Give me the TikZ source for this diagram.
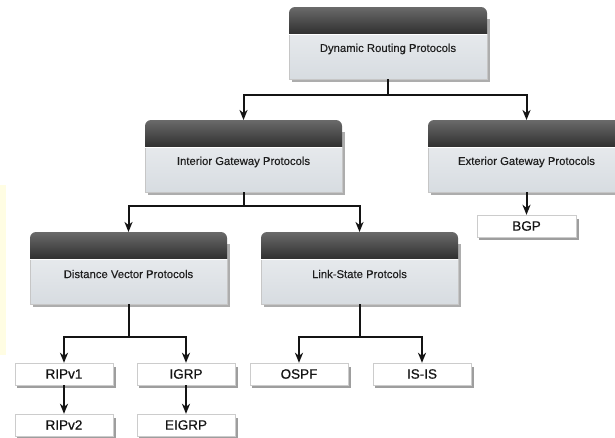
\documentclass[tikz,border=0pt]{standalone}
\usepackage{fontspec}
\setmainfont{Liberation Sans}
\newfontfamily\leaffont[FakeBold=0.6]{Liberation Sans}
\newfontfamily\catfont[FakeBold=0.25]{Liberation Sans}
\usetikzlibrary{arrows.meta}
\definecolor{hdtop}{HTML}{6A6A6A}
\definecolor{hdmid}{HTML}{383838}
\definecolor{hdbot}{HTML}{1A1A1A}
\definecolor{bdtop}{HTML}{E6E9EC}
\definecolor{bdbot}{HTML}{D7DCE1}
\definecolor{shc}{HTML}{6A6A6A}
\definecolor{ylw}{HTML}{FFFDE3}
\definecolor{txt}{HTML}{1E1E1E}
\tikzset{
  conn/.style={line width=2pt, draw=black!92, -{Stealth[length=10pt,width=8pt,inset=3pt]}},
  plain/.style={line width=2pt, draw=black!92},
  cattext/.style={font=\catfont\fontsize{11.3}{13}\selectfont, text=txt, inner sep=0pt},
  leaf/.style={draw=gray!40, line width=.4pt, fill=white, inner sep=0pt, font=\leaffont\fontsize{13.5}{15}\selectfont, text=black!92},
  anchorbox/.style={inner sep=0pt, outer sep=0pt}
}
% #1 name, #2 left, #3 top, #4 right, #5 bottom, #6 text
\newcommand\catbox[6]{%
  \fill[shc,opacity=.55] ({#2+2.5},{#3+12}) rectangle ({#4+2.5},{#5+3});
  \shade[top color=hdtop, middle color=hdmid, bottom color=hdbot, rounded corners=6pt] (#2,{#3+37}) rectangle (#4,#3);
  \shade[top color=bdtop, bottom color=bdbot] (#2,{#3+27}) rectangle (#4,#5);
  \draw[gray!45, line width=.4pt] (#2,{#3+27}) -- (#2,#5) -- (#4,#5) -- (#4,{#3+27});
  \draw[white, line width=.8pt] (#2,{#3+27}) -- (#4,{#3+27});
  \pgfmathsetmacro\bw{#4-#2}\pgfmathsetmacro\bh{#5-#3}%
  \node[anchorbox, minimum width=\bw pt, minimum height=\bh pt] (#1) at ({(#2+#4)/2},{(#3+#5)/2}) {};
  \node[cattext] (#1-t) at ({(#2+#4)/2},{#3+42}) {#6};
}
\newcommand\leafbox[6]{%
  \fill[shc,opacity=.65] ({#2+2},{#3+4}) rectangle ({#4+2.5},{#5+2.5});
  \pgfmathsetmacro\bw{#4-#2}\pgfmathsetmacro\bh{#5-#3}%
  \node[leaf, minimum width=\bw pt, minimum height=\bh pt] (#1) at ({(#2+#4)/2},{(#3+#5)/2}) {#6};
}
\begin{document}
\begin{tikzpicture}[x=1pt,y=-1pt]
\useasboundingbox (0,0) rectangle (615,437);
\clip (0,0) rectangle (615,437);
\fill[white] (0,0) rectangle (615,437);
\fill[ylw] (0,185) rectangle (6,355);

\catbox{drp}{289}{7}{487}{79}{Dynamic Routing Protocols}
\catbox{igp}{145}{120}{342}{192}{Interior Gateway Protocols}
\catbox{egp}{428}{120}{625}{192}{Exterior Gateway Protocols}
\catbox{dvp}{30}{232}{227}{304}{Distance Vector Protocols}
\catbox{lsp}{261}{232}{458}{304}{Link-State Protcols}

\leafbox{bgp}{477}{215}{576}{237}{BGP}
\leafbox{ripa}{15}{363}{113}{385}{RIPv1}
\leafbox{igrp}{137}{363}{235}{385}{IGRP}
\leafbox{ospf}{250}{363}{348}{385}{OSPF}
\leafbox{isis}{373}{363}{471}{385}{IS-IS}
\leafbox{ripb}{15}{414}{113}{436}{RIPv2}
\leafbox{eigrp}{137}{414}{235}{436}{EIGRP}

\draw[plain] (drp.south) -- ++(0,16) coordinate (j0);
\draw[conn] (j0) -| (igp.north);
\draw[conn] (j0) -| (egp.north);

\draw[plain] (igp.south) -- ++(0,14) coordinate (j1);
\draw[conn] (j1) -| (dvp.north);
\draw[conn] (j1) -| (lsp.north);

\draw[conn] (egp.south) -- (bgp.north);

\draw[plain] (dvp.south) -- ++(0,33) coordinate (j2);
\draw[conn] (j2) -| (ripa.north);
\draw[conn] (j2) -| (igrp.north);

\draw[plain] (lsp.south) -- ++(0,33) coordinate (j3);
\draw[conn] (j3) -| (ospf.north);
\draw[conn] (j3) -| (isis.north);

\draw[conn] (ripa.south) -- (ripb.north);
\draw[conn] (igrp.south) -- (eigrp.north);
\end{tikzpicture}
\end{document}
